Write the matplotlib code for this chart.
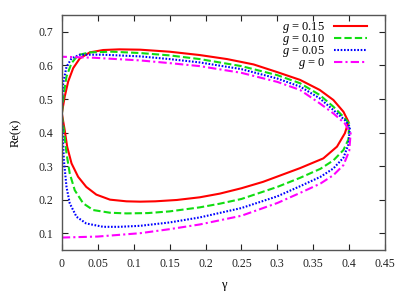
import matplotlib
matplotlib.use('Agg')
import matplotlib.pyplot as plt

plt.rcParams['font.family'] = ['Liberation Serif', 'DejaVu Serif']
plt.rcParams['mathtext.fontset'] = 'custom'
plt.rcParams['mathtext.it'] = 'Liberation Serif:italic'
plt.rcParams['mathtext.rm'] = 'Liberation Serif'

# each loop: lower branch out to the tip, then back along the upper branch
gamma_g015 = [0, 0.004, 0.0074, 0.0135, 0.0227, 0.034, 0.048, 0.067, 0.09, 0.109, 0.13,
              0.16, 0.192, 0.22, 0.25, 0.28, 0.3316, 0.364, 0.383, 0.394, 0.399,
              0.392, 0.378, 0.359, 0.3316, 0.3, 0.267, 0.23, 0.192, 0.15, 0.109, 0.08,
              0.0576, 0.039, 0.025, 0.0158, 0.0088, 0.004, 0.001, 0]
kappa_g015 = [0.457, 0.407, 0.358, 0.308, 0.268, 0.238, 0.215, 0.2, 0.195, 0.194, 0.195,
              0.199, 0.207, 0.218, 0.234, 0.253, 0.294, 0.323, 0.358, 0.398, 0.432,
              0.462, 0.497, 0.527, 0.557, 0.58, 0.603, 0.619, 0.631, 0.641, 0.647, 0.648,
              0.646, 0.639, 0.621, 0.592, 0.552, 0.507, 0.47, 0.457]

gamma_g010 = [0, 0.0028, 0.0065, 0.011, 0.018, 0.0297, 0.0436, 0.067, 0.09, 0.12, 0.15,
              0.192, 0.22, 0.25, 0.3, 0.3316, 0.36, 0.378, 0.392, 0.399, 0.4,
              0.392, 0.378, 0.359, 0.3316, 0.3, 0.25, 0.192, 0.15, 0.109, 0.07, 0.039,
              0.0227, 0.0135, 0.0065, 0.0028, 0.001, 0]
kappa_g010 = [0.452, 0.407, 0.338, 0.278, 0.228, 0.189, 0.169, 0.161, 0.159, 0.16, 0.165,
              0.177, 0.188, 0.202, 0.238, 0.265, 0.292, 0.317, 0.348, 0.38, 0.427,
              0.447, 0.477, 0.512, 0.547, 0.571, 0.598, 0.619, 0.63, 0.637, 0.641, 0.639,
              0.631, 0.607, 0.567, 0.517, 0.48, 0.452]

gamma_g005 = [0, 0.001, 0.0028, 0.0065, 0.011, 0.0204, 0.034, 0.0576, 0.08, 0.109, 0.15,
              0.192, 0.25, 0.3, 0.3316, 0.36, 0.378, 0.392, 0.399, 0.401,
              0.394, 0.378, 0.359, 0.3316, 0.3, 0.25, 0.192, 0.15, 0.109, 0.0576, 0.025,
              0.0135, 0.0065, 0.0018, 0.0005, 0]
kappa_g005 = [0.45, 0.407, 0.318, 0.238, 0.189, 0.149, 0.129, 0.119, 0.119, 0.122, 0.132,
              0.147, 0.175, 0.21, 0.24, 0.268, 0.293, 0.325, 0.365, 0.417,
              0.437, 0.467, 0.502, 0.537, 0.561, 0.589, 0.609, 0.619, 0.627, 0.632, 0.632,
              0.621, 0.596, 0.547, 0.5, 0.45]

gamma_g0 = [0, 0.05, 0.109, 0.15, 0.192, 0.25, 0.3, 0.3316, 0.36, 0.378, 0.392, 0.4, 0.402,
            0.394, 0.378, 0.359, 0.3316, 0.3, 0.25, 0.192, 0.15, 0.109, 0.044, 0]
kappa_g0 = [0.087, 0.09, 0.1, 0.112, 0.126, 0.152, 0.19, 0.22, 0.248, 0.273, 0.303, 0.345, 0.398,
            0.427, 0.457, 0.487, 0.527, 0.551, 0.578, 0.598, 0.607, 0.615, 0.623, 0.626]

labels = ['$g$ = 0.15', '$g$ = 0.10', '$g$ = 0.05', '$g$ = 0']

xticks = [0, 0.05, 0.1, 0.15, 0.2, 0.25, 0.3, 0.35, 0.4, 0.45]
xticklabels = ['0', '0.05', '0.1', '0.15', '0.2', '0.25', '0.3', '0.35', '0.4', '0.45']
yticks = [0.1, 0.2, 0.3, 0.4, 0.5, 0.6, 0.7]
yticklabels = ['0.1', '0.2', '0.3', '0.4', '0.5', '0.6', '0.7']

fig = plt.figure(figsize=(4.15, 2.91), dpi=100)
ax = fig.add_axes([0.149, 0.141, 0.779, 0.807])

ax.plot(gamma_g015, kappa_g015, color='#ff0000', lw=1.5, ls='-', label=labels[0])
ax.plot(gamma_g010, kappa_g010, color='#11dd11', lw=1.5, ls=(0, (3.5, 1.5)), label=labels[1])
ax.plot(gamma_g005, kappa_g005, color='#0000ff', lw=1.5, ls=(0, (0.8, 0.8)), label=labels[2])
ax.plot(gamma_g0, kappa_g0, color='#ff00ff', lw=1.5, ls=(0, (4, 1.5, 1, 1.5)), label=labels[3])

ax.set_xlim(0, 0.45)
ax.set_ylim(0.05, 0.75)
ax.set_xticks(xticks)
ax.set_xticklabels(xticklabels)
ax.set_yticks(yticks)
ax.set_yticklabels(yticklabels)
ax.tick_params(direction='in', top=True, right=True, length=4, width=0.8,
               labelsize=8.5, colors='#222222', pad=6)
for s in ax.spines.values():
    s.set_color('#555555')
    s.set_linewidth(1.0)

ax.set_xlabel('γ', fontsize=9, labelpad=6)
ax.set_ylabel('Re(κ)', fontsize=9, labelpad=12)

ax.legend(loc='upper right', frameon=False, markerfirst=False, fontsize=9,
          handlelength=2.6, labelspacing=-0.24, borderaxespad=0.3, handletextpad=0.7,
          bbox_to_anchor=(0.97, 1.015))

fig.savefig('out.png', dpi=100)
